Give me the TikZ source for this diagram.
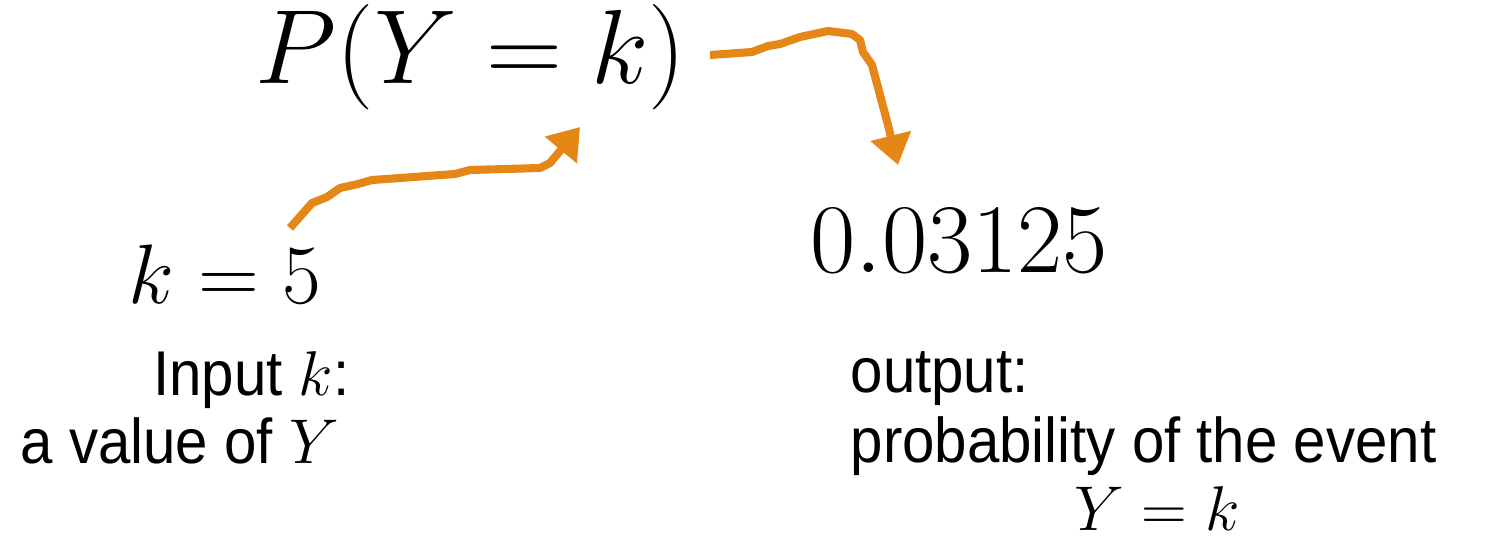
\RequirePackage{fix-cm}
\documentclass[tikz,border=0pt]{standalone}
\definecolor{POrange}{HTML}{E58716}
\definecolor{PInk}{HTML}{000000}
\usepackage[no-math]{fontspec}
\setmainfont{Liberation Sans}[FakeStretch=0.92]
\usepackage{amsmath}
\usepackage{tikz}
\usetikzlibrary{arrows.meta,positioning,calc}

\tikzset{
  bigmath/.style={inner sep=0pt,text=PInk},
  note/.style={inner sep=0pt,text=PInk,font=\fontsize{18}{22}\selectfont},
  flow/.style={draw=POrange,line width=2.3pt,line join=round,
               -{Triangle[length=0.3cm,width=0.4cm]}}
}

\begin{document}
\begin{tikzpicture}
    \useasboundingbox (0,0) rectangle (14.99,-5.42);
    % the formula and the two values
    \node[bigmath,anchor=base,font=\fontsize{30}{36}\selectfont] (pmf) at (4.71,-0.83) {$P(Y=k)$};
    \node[bigmath,anchor=base,font=\fontsize{24}{29}\selectfont] (kval) at (2.25,-3.03) {$k=5$};
    \node[bigmath,anchor=base west,font=\fontsize{28}{34}\selectfont] (prob) at (8.10,-2.72) {$0.03125$};
    % notes
    \node[note,anchor=base east] (inA) at (3.50,-3.95) {Input $k$:};
    \node[note,anchor=base west] (inB) at (0.20,-4.63) {a value of $Y$};
    \node[note,anchor=base west] (outA) at (8.50,-3.92) {output:};
    \node[note,anchor=base west] (outB) at (8.50,-4.62) {probability of the event};
    \node[note,anchor=base] (outC) at (11.57,-5.30) {$Y=k$};
    % hand drawn arrows
    \coordinate (inTail) at (2.90,-2.28);
    \coordinate (inHead) at (5.80,-1.27);
    \coordinate (outTail) at (7.10,-0.55);
    \coordinate (outHead) at (8.98,-1.65);
    \draw[flow] (inTail) -- ++(0.22,0.25) -- ++(0.15,0.06) -- ++(0.13,0.09)
      -- ++(0.18,0.04) -- ++(0.14,0.04) -- ++(0.83,0.06) -- ++(0.15,0.04)
      -- ++(0.70,0.02) -- ++(0.10,0.05) -- (inHead);
    \draw[flow] (outTail) -- ++(0.42,0.03) -- ++(0.16,0.06) -- ++(0.12,0.02)
      -- ++(0.20,0.07) -- ++(0.28,0.06) -- ++(0.24,-0.03) -- ++(0.08,-0.06)
      -- ++(0.03,-0.12) -- ++(0.09,-0.13) -- ++(0.08,-0.30) -- ++(0.08,-0.30)
      -- (outHead);
  \end{tikzpicture}
\end{document}
